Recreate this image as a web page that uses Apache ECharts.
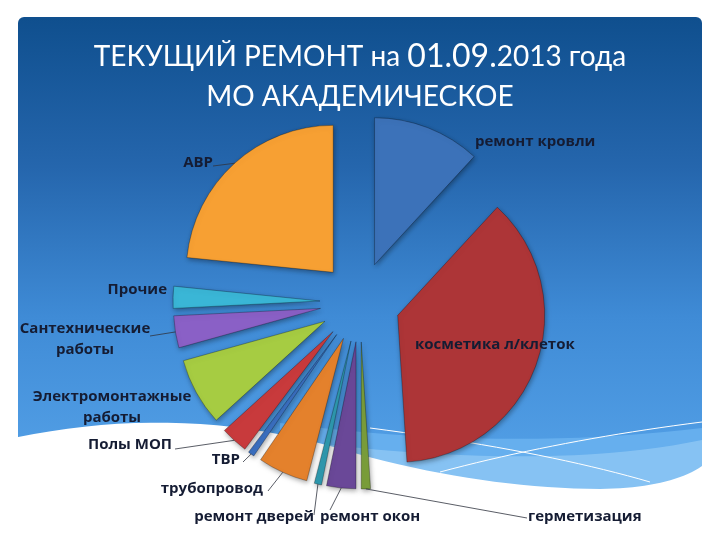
<!DOCTYPE html>
<html>
<head>
<meta charset="utf-8">
<script src="https://cdn.jsdelivr.net/npm/echarts@6/dist/echarts.min.js"></script>
<style>html,body{margin:0;padding:0;background:#fff;}#c{width:720px;height:540px;}</style>
</head>
<body>
<div id="c"></div>
<script>
const categories = ['ремонт кровли', 'косметика л/клеток', 'герметизация', 'ремонт окон', 'ремонт дверей', 'трубопровод', 'ТВР', 'Полы МОП', 'Электромонтажные работы', 'Сантехнические работы', 'Прочие', 'АВР'];
const values = [11.8, 37, 1, 3.2, 0.8, 5.5, 0.7, 3, 7.4, 3.5, 2.4, 23.3];
const colors = ['#3c72b9', '#ad3537', '#7a9e3a', '#6a4898', '#2e98ae', '#e4812c', '#3a6fc0', '#c83a3c', '#a6cc42', '#8a60c6', '#3ab6d6', '#f7a033'];
// label anchor [x, y, align]
const labelAnchors = [[475,142,'left'],[415,345,'left'],[528,517,'left'],[320,517,'left'],[314,517,'right'],[263,489,'right'],[240,460,'right'],[172,445,'right'],[112,407,'center'],[85,339,'center'],[167,290,'right'],[213,163,'right']];
// leader line end points (null = no line)
const lineEnds = [null, null, [527,518], [330,510], [314,515], [268,491], [243,462], [175,449], null, [150,336], null, [213,166]];

const CX = 360, CY = 302, R = 147, OFFSET = 40;

const chart = echarts.init(document.getElementById('c'));

const total = values.reduce((a, b) => a + b, 0);
function midDir(i) {
  let s = 0;
  for (let k = 0; k < i; k++) s += values[k];
  const ang = (s + values[i] / 2) / total * Math.PI * 2;
  return [Math.sin(ang), -Math.cos(ang)];
}
// decorative curve helper: quadratic bezier chain -> points
function curve(segs) {
  const pts = [];
  for (const s of segs) {
    const [x0, y0, cx, cy, x1, y1] = s;
    for (let t = 0; t <= 1.0001; t += 0.05) {
      const u = 1 - t;
      pts.push([u * u * x0 + 2 * u * t * cx + t * t * x1, u * u * y0 + 2 * u * t * cy + t * t * y1]);
    }
  }
  return pts;
}

const option = {
  backgroundColor: '#ffffff',
  animation: false,
  title: {
    text: '{a|ТЕКУЩИЙ РЕМОНТ на }{b|01.09.}{a|2013 года}\n{a|МО АКАДЕМИЧЕСКОЕ}',
    left: 'center',
    top: 32,
    textStyle: {
      rich: {
        a: { fontFamily: 'Lato', fontSize: 28, fontWeight: 'normal', color: '#ffffff', lineHeight: 40 },
        b: { fontFamily: 'Lato', fontSize: 32, fontWeight: 'normal', color: '#ffffff', lineHeight: 40 }
      }
    }
  },
  graphic: [
    {
      type: 'rect', z: -10, silent: true,
      shape: { x: 18, y: 17, width: 684, height: 500, r: 6 },
      style: { fill: { type: 'linear', x: 0, y: 0, x2: 0, y2: 1, colorStops: [
        { offset: 0, color: '#0f4f8e' }, { offset: 0.3, color: '#2566ad' },
        { offset: 0.6, color: '#3f8bd6' }, { offset: 1, color: '#5aa7ec' } ] } }
    },
    {
      type: 'polygon', z: -9, silent: true,
      shape: { points: curve([[280, 423, 500, 452, 702, 428]]).concat([[702, 520], [280, 520]]) },
      style: { fill: '#66afee' }
    },
    {
      type: 'polygon', z: -9, silent: true,
      shape: { points: curve([[330, 445, 560, 470, 702, 440]]).concat([[702, 520], [330, 520]]) },
      style: { fill: '#8cc6f3', opacity: 0.85 }
    },
    {
      type: 'polyline', z: -8, silent: true,
      shape: { points: curve([[370, 428, 540, 450, 650, 482]]) },
      style: { stroke: '#ffffff', lineWidth: 1 }
    },
    {
      type: 'polyline', z: -8, silent: true,
      shape: { points: curve([[440, 472, 560, 440, 702, 422]]) },
      style: { stroke: '#ffffff', lineWidth: 1 }
    },
    {
      type: 'polygon', z: -7, silent: true,
      shape: { points: curve([[0, 441, 170, 402, 330, 446], [330, 446, 470, 488, 600, 489], [600, 489, 670, 488, 702, 466]]).concat([[720, 466], [720, 540], [0, 540]]) },
      style: { fill: '#ffffff' }
    }
  ],
  series: [
    {
      type: 'pie',
      center: [CX, CY],
      radius: [0, R],
      startAngle: 90,
      clockwise: true,
      selectedMode: 'multiple',
      selectedOffset: OFFSET,
      silent: true,
      label: { show: false },
      labelLine: { show: false },
      emphasis: { disabled: true },
      itemStyle: { borderColor: 'rgba(0,0,0,0.35)', borderWidth: 0.8, shadowBlur: 5, shadowColor: 'rgba(0,0,0,0.35)', shadowOffsetX: 1, shadowOffsetY: 2 },
      data: categories.map((n, i) => ({ name: n, value: values[i], selected: true, itemStyle: { color: colors[i] } }))
    },
    {
      type: 'pie',
      center: [CX, CY],
      radius: [0, R],
      startAngle: 90,
      clockwise: true,
      silent: true,
      avoidLabelOverlap: false,
      z: 5,
      itemStyle: { color: 'rgba(0,0,0,0)' },
      emphasis: { disabled: true },
      label: {
        show: true,
        position: 'outside',
        color: '#151c33',
        fontFamily: 'Open Sans',
        fontWeight: 'bold',
        fontSize: 15,
        lineHeight: 21,
        formatter: p => p.name.replace(' работы', '\nработы')
      },
      labelLine: { show: true, lineStyle: { color: '#30343f', width: 0.8 } },
      labelLayout: function (p) {
        const i = p.dataIndex;
        const a = labelAnchors[i];
        const res = { x: a[0], y: a[1], align: a[2], verticalAlign: 'middle' };
        if (lineEnds[i]) {
          const d = midDir(i);
          const s = [CX + d[0] * (R + OFFSET), CY + d[1] * (R + OFFSET)];
          const e = lineEnds[i];
          res.labelLinePoints = [s, e, e];
        }
        return res;
      },
      data: categories.map((n, i) => ({ name: n, value: values[i], labelLine: { show: !!lineEnds[i] } }))
    }
  ]
};
chart.setOption(option);
</script>
</body>
</html>
